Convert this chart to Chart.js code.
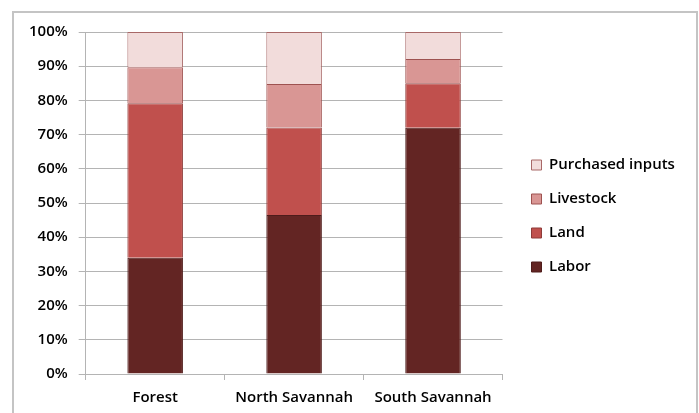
<!DOCTYPE html>
<html>
<head>
<meta charset="utf-8">
<script src="https://cdn.jsdelivr.net/npm/chart.js@4/dist/chart.umd.min.js"></script>
<style>
  html, body { margin: 0; padding: 0; background: #ffffff; }
  #wrap { width: 699px; height: 413px; }
</style>
</head>
<body>
<div id="wrap"><canvas id="chart" width="699" height="413"></canvas></div>
<script>
// Share of production costs by input, per agro-ecological zone (percent)
const zones = ['Forest', 'North Savannah', 'South Savannah'];
const labor = [34, 46.5, 72];
const land = [45.2, 25.6, 13];
const livestock = [10.5, 12.7, 7.1];
const purchasedInputs = [10.3, 15.2, 7.9];
const yTicks = [0, 10, 20, 30, 40, 50, 60, 70, 80, 90, 100];

const FONT = '"Open Sans", Lato, "Liberation Sans", sans-serif';
const GRID = '#b4b4b4';
const TEXT_FONT = { family: FONT, size: 15, weight: 600 };

// White background and a light grey frame around the figure (open at the bottom)
const framePlugin = {
  id: 'frame',
  beforeDraw(chart) {
    const ctx = chart.ctx;
    ctx.save();
    ctx.fillStyle = '#ffffff';
    ctx.fillRect(0, 0, chart.width, chart.height);
    ctx.restore();
  },
  afterDraw(chart) {
    const ctx = chart.ctx;
    ctx.save();
    ctx.strokeStyle = '#c4c4c4';
    ctx.lineWidth = 2;
    ctx.beginPath();
    ctx.moveTo(13, chart.height + 2);
    ctx.lineTo(13, 12);
    ctx.lineTo(697, 12);
    ctx.lineTo(697, chart.height + 2);
    ctx.stroke();
    ctx.restore();
  }
};

// Leave a little more air between the plot and the legend, and lift the legend slightly
const legendOffsetPlugin = {
  id: 'legendOffset',
  afterLayout(chart) {
    const lg = chart.legend;
    if (!lg) return;
    lg.left += 10;
    lg.right = chart.width;
    lg.top -= 16;
  }
};

const series = [
  { label: 'Labor', data: labor, backgroundColor: '#632523', borderColor: '#4e1c1b' },
  { label: 'Land', data: land, backgroundColor: '#c0504d', borderColor: '#8e3b39' },
  { label: 'Livestock', data: livestock, backgroundColor: '#d99694', borderColor: '#9e5250' },
  { label: 'Purchased inputs', data: purchasedInputs, backgroundColor: '#f2dcdb', borderColor: '#a86867' }
];

new Chart(document.getElementById('chart'), {
  type: 'bar',
  data: {
    labels: zones,
    datasets: series.map(s => ({
      label: s.label,
      data: s.data,
      backgroundColor: s.backgroundColor,
      borderColor: s.borderColor,
      borderWidth: 1,
      barPercentage: 0.4,
      categoryPercentage: 1.0
    }))
  },
  options: {
    responsive: false,
    animation: false,
    devicePixelRatio: 1,
    layout: { padding: { left: 18, top: 32, right: 35, bottom: -3 } },
    plugins: {
      tooltip: { enabled: false },
      legend: {
        position: 'right',
        reverse: true,
        labels: {
          font: TEXT_FONT,
          color: '#000000',
          boxWidth: 10,
          boxHeight: 10,
          padding: 19
        }
      }
    },
    scales: {
      x: {
        stacked: true,
        grid: {
          offset: true,
          drawOnChartArea: false,
          drawTicks: true,
          tickLength: 6,
          color: GRID
        },
        border: { color: GRID, width: 1 },
        ticks: {
          font: TEXT_FONT,
          color: '#000000',
          padding: 9
        }
      },
      y: {
        stacked: true,
        min: 0,
        max: 100,
        afterBuildTicks(axis) {
          axis.ticks = yTicks.map(v => ({ value: v }));
        },
        grid: {
          color: GRID,
          tickLength: 7,
          drawTicks: true
        },
        border: { color: GRID, width: 1 },
        ticks: {
          font: TEXT_FONT,
          color: '#000000',
          padding: 11,
          callback: v => v + '%'
        }
      }
    }
  },
  plugins: [framePlugin, legendOffsetPlugin]
});
</script>
</body>
</html>
